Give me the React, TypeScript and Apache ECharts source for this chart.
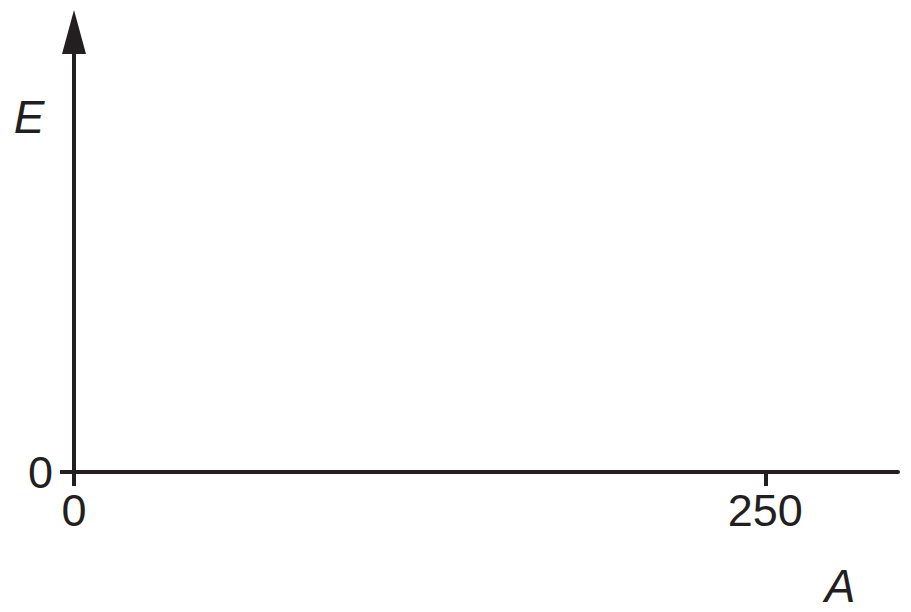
import React, { useEffect, useRef } from "react";
import * as echarts from "echarts";

const xTicks = [0, 250];
const yTicks = [0];
const xRange = [0, 298];
const yRange = [0, 1];
const xName = "A";
const yName = "E";

const INK = "#231f20";
const FONT = "'Liberation Sans', Arial, sans-serif";

export default function App() {
  const ref = useRef<HTMLDivElement>(null);
  useEffect(() => {
    document.body.style.margin = "0";
    const chart = echarts.init(ref.current!, null, { renderer: "svg" });
    chart.setOption({
      animation: false,
      backgroundColor: "#ffffff",
      grid: { left: 74, right: 13, top: 32, bottom: 140, containLabel: false },
      xAxis: {
        type: "value",
        min: xRange[0],
        max: xRange[1],
        splitLine: { show: false },
        axisLine: { show: true, lineStyle: { color: INK, width: 4 } },
        axisTick: { show: true, length: 14, lineStyle: { color: INK, width: 4 }, customValues: xTicks },
        axisLabel: {
          customValues: xTicks,
          color: INK,
          fontSize: 45,
          fontFamily: FONT,
          margin: 16,
          formatter: (v: number) => String(v),
        },
      },
      yAxis: {
        type: "value",
        min: yRange[0],
        max: yRange[1],
        splitLine: { show: false },
        axisLine: {
          show: true,
          symbol: ["none", "triangle"],
          symbolSize: [24, 44],
          lineStyle: { color: INK, width: 4 },
        },
        axisTick: { show: true, length: 14, lineStyle: { color: INK, width: 4 }, customValues: yTicks },
        axisLabel: {
          customValues: yTicks,
          color: INK,
          fontSize: 45,
          fontFamily: FONT,
          margin: 21,
          formatter: (v: number) => String(v),
        },
      },
      graphic: [
        {
          type: "text",
          x: 29,
          y: 117,
          style: {
            text: yName,
            fill: INK,
            font: `italic 46px ${FONT}`,
            align: "center",
            verticalAlign: "middle",
          },
        },
        {
          type: "text",
          x: 840,
          y: 586,
          style: {
            text: xName,
            fill: INK,
            font: `italic 46px ${FONT}`,
            align: "center",
            verticalAlign: "middle",
          },
        },
      ],
      series: [],
    });
    return () => chart.dispose();
  }, []);
  return <div ref={ref} style={{ width: 911, height: 612 }} />;
}
